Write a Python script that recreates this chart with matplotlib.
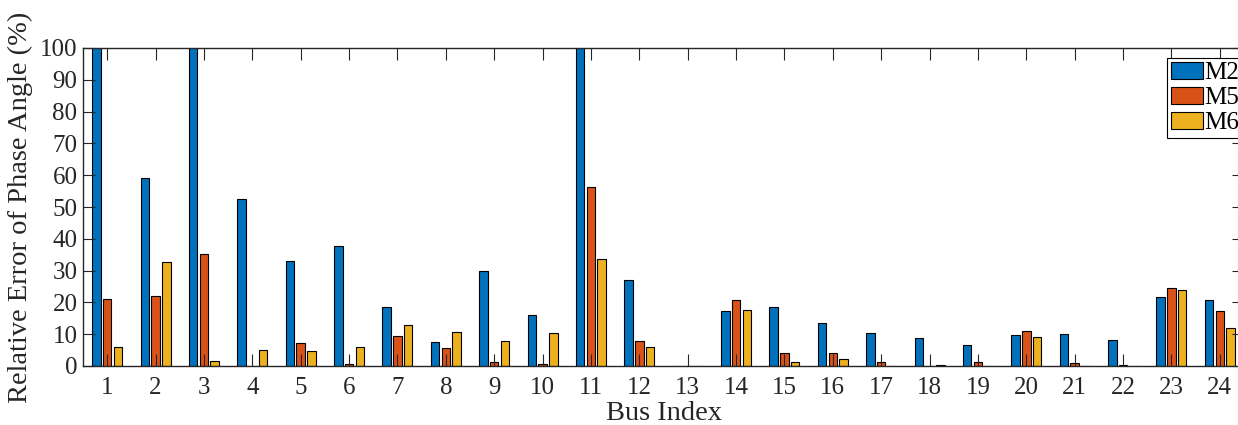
import matplotlib
matplotlib.use('Agg')
import matplotlib.pyplot as plt
import numpy as np

plt.rcParams['font.family'] = ['Liberation Serif', 'DejaVu Serif']

# Relative error of phase angle (%) per bus; values above 100 are clipped by the axes
buses = list(range(1, 25))
m2 = [150, 59.0, 150, 52.5, 33.0, 37.6, 18.5, 7.4, 30.0, 15.9, 150, 26.9,
      0.0, 17.4, 18.6, 13.6, 10.4, 8.7, 6.5, 9.6, 10.1, 8.2, 21.6, 20.8]
m5 = [21.0, 22.1, 35.1, 0.0, 7.1, 0.7, 9.3, 5.7, 1.3, 0.5, 56.3, 7.9,
      0.0, 20.9, 4.0, 4.1, 1.3, 0.1, 1.2, 11.0, 0.9, 0.4, 24.4, 17.2]
m6 = [6.1, 32.7, 1.5, 4.9, 4.7, 5.9, 13.0, 10.6, 7.8, 10.3, 33.5, 6.0,
      0.0, 17.7, 1.2, 2.1, 0.0, 0.3, 0.1, 9.0, 0.1, 0.0, 23.8, 11.9]
series = [('M2', m2, '#0072BD'), ('M5', m5, '#D95319'), ('M6', m6, '#EDB120')]

fig = plt.figure(figsize=(12.38, 4.25), dpi=100)
ax = fig.add_axes([83 / 1238, 59 / 425, 1161 / 1238, 318 / 425])

x = np.array(buses)
step = 0.2222
width = 0.178
for i, (name, vals, color) in enumerate(series):
    ax.bar(x + (i - 1) * step, vals, width, color=color, edgecolor='black',
           linewidth=0.8, label=name)

ax.set_xlim(0.5, 24.5)
ax.set_ylim(0, 100)
ax.set_xticks(buses)
ax.set_yticks(np.arange(0, 101, 10))
ax.tick_params(direction='in', length=8.6, width=0.8, labelsize=18,
               top=True, right=True, colors='#262626')
ax.tick_params(axis='x', pad=8)
ax.tick_params(axis='y', pad=4)
for s in ax.spines.values():
    s.set_linewidth(1.0)
    s.set_color('#262626')

ax.set_xlabel('Bus Index', fontsize=20.5, color='#262626', labelpad=1)
ax.set_ylabel('Relative Error of Phase Angle (%)', fontsize=20.5,
              color='#262626', labelpad=5)

leg = ax.legend(loc='upper left', bbox_to_anchor=(0.9337, 0.9686),
                borderaxespad=0, fancybox=False, framealpha=1,
                edgecolor='black', fontsize=18, handlelength=1.3,
                handleheight=0.7, handletextpad=0.05, labelspacing=0.1,
                borderpad=0.15)
leg.get_frame().set_linewidth(0.8)

fig.savefig('out.png', dpi=100)
